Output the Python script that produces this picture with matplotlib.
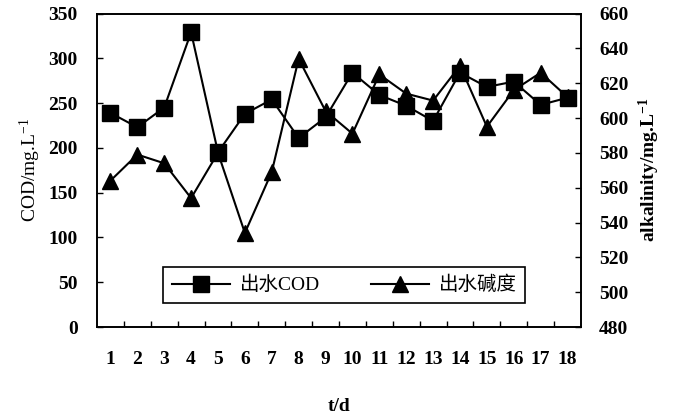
import matplotlib
matplotlib.use("Agg")
import matplotlib.pyplot as plt
from matplotlib.ticker import FixedLocator, MultipleLocator

plt.rcParams['font.family'] = ['Liberation Serif', 'Noto Sans CJK SC']
plt.rcParams['mathtext.default'] = 'regular'

days = list(range(1, 19))
cod = [239, 223, 245, 329, 195, 238, 254, 211, 234, 284,
       259, 247, 230, 284, 268, 274, 248, 256]
alkalinity = [564, 579, 574, 554, 580, 534, 569, 634, 604, 591,
              625, 614, 610, 630, 595, 616, 626, 612]

fig = plt.figure(figsize=(6.74, 4.18), dpi=100)
ax = fig.add_axes([0.1439, 0.2177, 0.7181, 0.75])
ax2 = ax.twinx()

l1, = ax.plot(days, cod, color='black', lw=1.5, marker='s', ms=11,
              markerfacecolor='black', label='出水COD')
l2, = ax2.plot(days, alkalinity, color='black', lw=1.5, marker='^', ms=11.5,
               markerfacecolor='black', label='出水碱度')

# squares drawn above triangles
ax.set_zorder(ax2.get_zorder() + 1)
ax.patch.set_visible(False)

ax.set_xlim(0.5, 18.5)
ax.set_ylim(0, 350)
ax2.set_ylim(480, 660)

ax.yaxis.set_major_locator(MultipleLocator(50))
ax2.yaxis.set_major_locator(MultipleLocator(20))
ax.set_xticks(days)
ax.set_xticklabels([str(d) for d in days])
ax.xaxis.set_minor_locator(FixedLocator([d + 0.5 for d in days[:-1]]))

ax.tick_params(axis='x', which='major', length=0, pad=17, labelsize=14)
ax.tick_params(axis='x', which='minor', direction='in', length=4, width=1)
ax.tick_params(axis='y', direction='in', length=4, width=1, labelsize=14, pad=14)
ax2.tick_params(axis='y', direction='in', length=4, width=1, labelsize=14, pad=13)
for lab in ax.get_xticklabels() + ax.get_yticklabels() + ax2.get_yticklabels():
    lab.set_fontweight('bold')

for a in (ax, ax2):
    for s in a.spines.values():
        s.set_linewidth(1.2)

ax.set_xlabel('t/d', fontsize=14, fontweight='bold', labelpad=22)
ax.set_ylabel('COD/mg.L$^{-1}$', fontsize=14, labelpad=4)
ax2.set_ylabel('alkalinity/mg.L$^{-1}$', fontsize=14, fontweight='bold', labelpad=6)

leg = ax.legend(handles=[l1, l2], loc='lower center', bbox_to_anchor=(0.511, 0.045),
                ncol=2, fancybox=False, edgecolor='black', framealpha=1,
                handlelength=3.0, columnspacing=2.6, borderpad=0.45,
                handletextpad=0.5, prop={'size': 14})
leg.get_frame().set_linewidth(1.2)

fig.savefig('out.png', dpi=100)
